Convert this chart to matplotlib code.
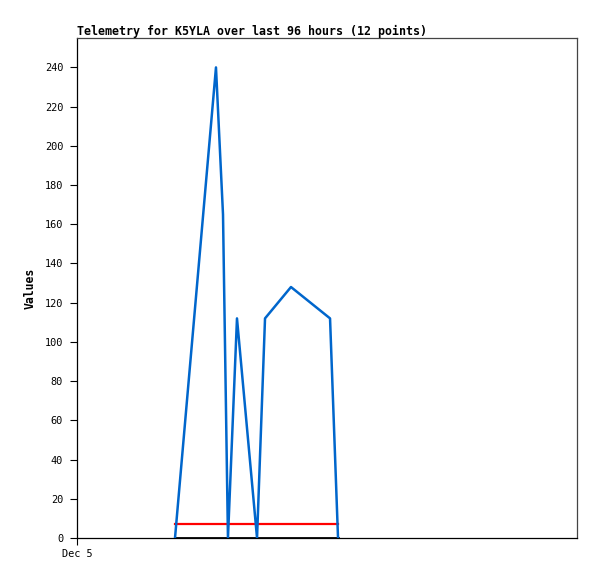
import pandas as pd
import matplotlib
matplotlib.use("Agg")
import matplotlib.pyplot as plt

# telemetry samples
times = pd.to_datetime([
    "2024-12-05 18:49", "2024-12-06 02:41", "2024-12-06 04:02",
    "2024-12-06 04:59", "2024-12-06 06:43", "2024-12-06 10:34",
    "2024-12-06 12:06", "2024-12-06 17:05", "2024-12-07 00:35",
    "2024-12-07 02:07",
])
values = [0, 240, 165, 0, 112, 0, 112, 128, 112, 0]
avg_value = 7
base_value = 0

start = pd.Timestamp("2024-12-05 00:00")
end = start + pd.Timedelta(hours=96)
yticks = list(range(0, 241, 20))

mono = "DejaVu Sans Mono"

fig = plt.figure(figsize=(5.97, 5.79), dpi=100)
ax = fig.add_axes([77 / 597, 41 / 579, 500 / 597, 500 / 579])

ax.plot(times, values, color="#0066CC", lw=1.8, zorder=3)
ax.plot([times[0], times[-1]], [avg_value, avg_value], color="#FF0000", lw=1.6, zorder=2)
ax.plot([times[0], times[-1]], [base_value, base_value], color="black", lw=2, zorder=2)

ax.set_xlim(start, end)
ax.set_ylim(0, 255)
ax.set_yticks(yticks)
ax.set_yticklabels([str(v) for v in yticks], family=mono, fontsize=7.4)
ax.set_xticks([start])
ax.set_xticklabels(["Dec 5"], family=mono, fontsize=7.4)
ax.tick_params(axis="both", direction="out", length=5, width=0.8, color="black")
ax.tick_params(axis="y", pad=5)
ax.tick_params(axis="x", pad=3)

for side in ["left", "bottom"]:
    ax.spines[side].set_color("black")
    ax.spines[side].set_linewidth(0.9)
for side in ["top", "right"]:
    ax.spines[side].set_color("#444444")
    ax.spines[side].set_linewidth(0.9)

ax.set_ylabel("Values", family=mono, fontweight="bold", fontsize=8.3, labelpad=6)
ax.set_title("Telemetry for K5YLA over last 96 hours (12 points)", family=mono,
             fontweight="bold", fontsize=8.35, loc="left", pad=2)

fig.savefig("out.png", dpi=100)
